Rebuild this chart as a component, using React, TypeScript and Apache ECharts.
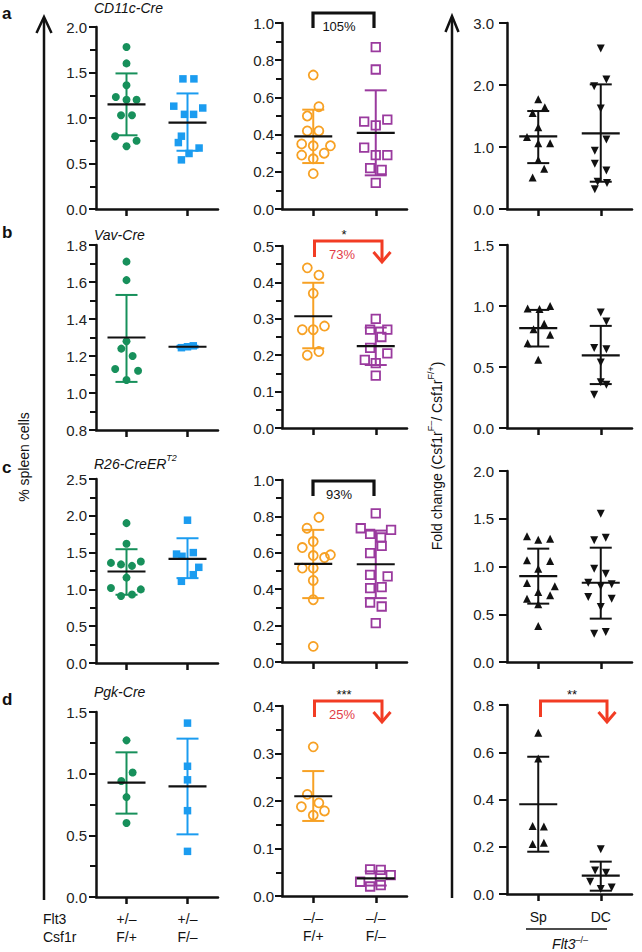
import React, { useEffect, useRef } from "react";
import * as echarts from "echarts";

// ---------------- text / categories ----------------
const panelLetters = ["a", "b", "c", "d"];
const creTitles = ["CD11c-Cre", "Vav-Cre", "R26-CreER", "Pgk-Cre"];
const creTitleSup = ["", "", "T2", ""];
const flt3Labels = ["+/–", "+/–", "–/–", "–/–"];
const csf1rLabels = ["F/+", "F/–", "F/+", "F/–"];
const foldLabels = ["Sp", "DC"];
const pctLabels = ["105%", "73%", "93%", "25%"];
const pctSig = ["", "*", "", "***"];
const pctDown = [false, true, false, true];
const foldSig = ["", "", "", "**"];

// ---------------- y axis ranges (rows a-d) ----------------
const col1YMin = [0, 0.8, 0, 0];
const col1YMax = [2.0, 1.8, 2.5, 1.5];
const col1YStep = [0.5, 0.2, 0.5, 0.5];
const col2YMax = [1.0, 0.5, 1.0, 0.4];
const col2YStep = [0.2, 0.1, 0.2, 0.1];
const col3YMax = [3.0, 1.5, 2.0, 0.8];
const col3YStep = [1.0, 0.5, 0.5, 0.2];

// ---------------- data: values, x-jitter, [mean, lower, upper] ----------------
// row a
const a1FP = [1.78, 1.6, 1.36, 1.23, 1.2, 1.2, 1.03, 1.03, 0.8, 0.75, 0.69];
const a1FPx = [0, 0, 0, -0.35, 0, 0.33, -0.18, 0.18, -0.37, 0.33, 0];
const a1FPs = [1.15, 0.81, 1.49];
const a1FM = [1.43, 1.43, 1.13, 1.11, 1.04, 1.04, 0.8, 0.73, 0.67, 0.61, 0.54];
const a1FMx = [-0.15, 0.21, -0.45, 0.5, -0.1, 0.2, -0.2, -0.3, 0.38, 0.05, -0.2];
const a1FMs = [0.95, 0.64, 1.27];
const a2FP = [0.72, 0.55, 0.5, 0.42, 0.42, 0.35, 0.34, 0.34, 0.3, 0.29, 0.27, 0.19];
const a2FPx = [0, 0.18, -0.19, -0.19, 0.18, -0.37, 0, 0.55, 0.35, -0.37, 0, 0];
const a2FPs = [0.39, 0.247, 0.534];
const a2FM = [0.87, 0.75, 0.47, 0.45, 0.48, 0.33, 0.29, 0.29, 0.22, 0.21, 0.14];
const a2FMx = [0, 0, -0.37, 0, 0.37, -0.37, 0, 0.37, -0.18, 0.19, 0];
const a2FMs = [0.409, 0.181, 0.638];
const a3Sp = [1.77, 1.64, 1.55, 1.32, 1.16, 1.06, 1.06, 0.79, 0.65, 0.51];
const a3SpX = [0, 0.21, -0.18, 0, -0.36, 0, 0.38, 0, 0.19, -0.18];
const a3SpS = [1.17, 0.74, 1.58];
const a3DC = [2.59, 2.09, 1.98, 1.62, 1.12, 0.94, 0.73, 0.62, 0.44, 0.42, 0.32];
const a3DCx = [0, 0.18, -0.21, 0, 0.18, -0.19, -0.19, 0.18, -0.1, 0.2, -0.19];
const a3DCs = [1.22, 0.44, 2.01];
// row b
const b1FP = [1.71, 1.61, 1.28, 1.24, 1.2, 1.13, 1.12, 1.07];
const b1FPx = [0, 0, 0, -0.17, 0.2, -0.37, 0.38, 0];
const b1FPs = [1.3, 1.06, 1.53];
const b1FM = [1.245, 1.255, 1.25];
const b1FMx = [-0.2, 0.19, 0];
const b1FMs = [1.25, 1.245, 1.255];
const b2FP = [0.44, 0.42, 0.37, 0.28, 0.27, 0.27, 0.2, 0.21];
const b2FPx = [-0.19, 0.18, 0, 0.36, -0.35, 0, -0.19, 0.18];
const b2FPs = [0.307, 0.219, 0.399];
const b2FM = [0.3, 0.27, 0.27, 0.25, 0.22, 0.205, 0.187, 0.178, 0.144];
const b2FMx = [0, -0.18, 0.37, 0.18, -0.18, 0.37, -0.35, 0, 0];
const b2FMs = [0.225, 0.173, 0.276];
const b3Sp = [1.0, 0.98, 0.975, 0.854, 0.81, 0.764, 0.695, 0.559];
const b3SpX = [0.38, -0.34, 0.04, 0.19, -0.15, 0.38, -0.34, 0];
const b3SpS = [0.818, 0.668, 0.968];
const b3DC = [0.946, 0.873, 0.655, 0.646, 0.537, 0.374, 0.355, 0.273];
const b3DCx = [0, 0.18, -0.21, 0.18, 0, 0, 0.18, -0.21];
const b3DCs = [0.595, 0.36, 0.837];
// row c
const c1FP = [1.9, 1.62, 1.38, 1.36, 1.34, 1.32, 1.16, 1.02, 1.0, 0.93, 0.91];
const c1FPx = [0, 0, 0.47, -0.51, -0.18, 0.18, 0, -0.51, 0.47, 0.18, -0.18];
const c1FPs = [1.243, 0.927, 1.546];
const c1FM = [1.94, 1.5, 1.48, 1.45, 1.3, 1.2, 1.11];
const c1FMx = [0, 0.19, -0.36, -0.18, 0.37, 0.19, -0.2];
const c1FMs = [1.415, 1.153, 1.695];
const c2FP = [0.795, 0.735, 0.662, 0.629, 0.589, 0.585, 0.574, 0.516, 0.516, 0.448, 0.342, 0.086];
const c2FPx = [0.18, -0.2, 0, -0.35, 0.55, 0, 0.36, -0.35, 0, 0, 0, 0];
const c2FPs = [0.539, 0.351, 0.726];
const c2FM = [0.817, 0.735, 0.726, 0.704, 0.684, 0.638, 0.598, 0.479, 0.47, 0.411, 0.406, 0.327, 0.305, 0.214];
const c2FMx = [0, -0.48, 0.49, -0.18, 0.17, 0.19, -0.18, -0.18, 0.38, 0.19, -0.18, -0.18, 0.19, 0];
const c2FMs = [0.537, 0.351, 0.722];
const c3Sp = [1.316, 1.29, 1.281, 1.065, 1.058, 0.977, 0.827, 0.792, 0.733, 0.698, 0.663, 0.604, 0.377];
const c3SpX = [-0.36, 0.38, 0, -0.36, 0.38, 0, -0.36, 0.53, 0, 0.38, -0.36, 0, 0];
const c3SpS = [0.9, 0.611, 1.187];
const c3DC = [1.553, 1.302, 1.274, 0.977, 0.925, 0.83, 0.813, 0.792, 0.68, 0.663, 0.576, 0.314, 0.297];
const c3DCx = [0, 0.16, -0.21, -0.21, 0.16, -0.4, 0.35, 0, -0.4, 0.35, 0, 0.16, -0.21];
const c3DCs = [0.83, 0.454, 1.197];
// row d
const d1FP = [1.27, 1.01, 0.94, 0.81, 0.6];
const d1FPx = [0, 0.2, -0.17, 0, 0];
const d1FPs = [0.927, 0.676, 1.173];
const d1FM = [1.41, 1.06, 0.95, 0.7, 0.37];
const d1FMx = [0, 0, 0, 0, 0];
const d1FMs = [0.897, 0.508, 1.284];
const d2FP = [0.314, 0.214, 0.196, 0.188, 0.179, 0.17];
const d2FPx = [0, -0.19, 0.18, -0.38, 0.36, 0];
const d2FPs = [0.21, 0.158, 0.263];
const d2FM = [0.056, 0.055, 0.044, 0.03, 0.023, 0.02];
const d2FMx = [-0.18, 0.16, 0.48, -0.5, 0.16, -0.18];
const d2FMs = [0.037, 0.022, 0.052];
const d3Sp = [0.683, 0.574, 0.288, 0.286, 0.217, 0.212];
const d3SpX = [0, 0, -0.18, 0.18, 0.18, -0.18];
const d3SpS = [0.38, 0.179, 0.581];
const d3DC = [0.189, 0.1, 0.09, 0.052, 0.027, 0.021];
const d3DCx = [0, -0.18, 0.17, -0.34, 0.35, 0];
const d3DCs = [0.078, 0.014, 0.137];

const panelData: number[][][][] = [
  [[a1FP, a1FPx, a1FPs], [a1FM, a1FMx, a1FMs]],
  [[a2FP, a2FPx, a2FPs], [a2FM, a2FMx, a2FMs]],
  [[a3Sp, a3SpX, a3SpS], [a3DC, a3DCx, a3DCs]],
  [[b1FP, b1FPx, b1FPs], [b1FM, b1FMx, b1FMs]],
  [[b2FP, b2FPx, b2FPs], [b2FM, b2FMx, b2FMs]],
  [[b3Sp, b3SpX, b3SpS], [b3DC, b3DCx, b3DCs]],
  [[c1FP, c1FPx, c1FPs], [c1FM, c1FMx, c1FMs]],
  [[c2FP, c2FPx, c2FPs], [c2FM, c2FMx, c2FMs]],
  [[c3Sp, c3SpX, c3SpS], [c3DC, c3DCx, c3DCs]],
  [[d1FP, d1FPx, d1FPs], [d1FM, d1FMx, d1FMs]],
  [[d2FP, d2FPx, d2FPs], [d2FM, d2FMx, d2FMs]],
  [[d3Sp, d3SpX, d3SpS], [d3DC, d3DCx, d3DCs]],
];
const catPos = [1, 3];

// ---------------- styling / layout ----------------
const FONT = "'Liberation Sans', Arial, Helvetica, sans-serif";
const INK = "#111111";
const LABEL = "#222222";
const GREEN = "#17905b";
const BLUE = "#1b9cf0";
const ORANGE = "#f7a124";
const PURPLE = "#9a3a9e";
const RED = "#f23c24";
const RED_TEXT = "#e23c48";

const colLeft = [96, 282, 507];
const colWidth = [122, 125, 125];
const gridTop = [
  [27, 23, 23],
  [245, 246, 245],
  [479, 480, 471],
  [712, 706, 705],
];
const gridBottom = [
  [209, 209, 209],
  [430, 428, 428],
  [663, 662, 662],
  [897, 896, 894],
];
const labelMargin = [9, 8, 13];
const tickLen = [7, 7, 8];

const groupColors = [
  [GREEN, BLUE],
  [ORANGE, PURPLE],
  [INK, INK],
];

function yRange(r: number, c: number) {
  if (c === 0) return { min: col1YMin[r], max: col1YMax[r], interval: col1YStep[r] };
  if (c === 1) return { min: 0, max: col2YMax[r], interval: col2YStep[r] };
  return { min: 0, max: col3YMax[r], interval: col3YStep[r] };
}

function xLabel(c: number, k: number) {
  if (c === 0) return `${flt3Labels[k]}\n${csf1rLabels[k]}`;
  if (c === 1) return `${flt3Labels[k + 2]}\n${csf1rLabels[k + 2]}`;
  return foldLabels[k];
}

function txt(x: number, y: number, text: string, extra: any = {}) {
  return {
    type: "text",
    x,
    y,
    silent: true,
    style: {
      text,
      fontFamily: FONT,
      fontSize: 14,
      fill: INK,
      align: "center",
      verticalAlign: "middle",
      ...extra,
    },
  };
}

function poly(points: number[][], color: string, width: number) {
  return {
    type: "polyline",
    silent: true,
    shape: { points },
    style: { stroke: color, lineWidth: width, fill: null, lineJoin: "miter", lineCap: "butt" },
  };
}

function buildOption() {
  const grid: any[] = [];
  const xAxis: any[] = [];
  const yAxis: any[] = [];
  const series: any[] = [];

  for (let r = 0; r < 4; r++) {
    for (let c = 0; c < 3; c++) {
      const idx = r * 3 + c;
      const top = gridTop[r][c];
      const bottom = gridBottom[r][c];
      grid.push({ left: colLeft[c], top, width: colWidth[c], height: bottom - top });
      const isBottom = r === 3;
      xAxis.push({
        type: "value",
        gridIndex: idx,
        min: 0,
        max: 4,
        axisLine: { show: true, onZero: false, lineStyle: { color: INK, width: 2.5 } },
        axisTick: { show: true, customValues: catPos, length: 7, lineStyle: { color: INK, width: 2.5 } },
        axisLabel: {
          show: isBottom,
          customValues: catPos,
          formatter: (v: number) => xLabel(c, catPos.indexOf(Math.round(v))),
          margin: c === 2 ? 14 : 13,
          fontSize: 14,
          lineHeight: 18,
          color: INK,
          fontFamily: FONT,
        },
        splitLine: { show: false },
      });
      const yr = yRange(r, c);
      yAxis.push({
        type: "value",
        gridIndex: idx,
        min: yr.min,
        max: yr.max,
        interval: yr.interval,
        axisLine: { show: true, lineStyle: { color: INK, width: 2.5 } },
        axisTick: { show: true, length: tickLen[c], lineStyle: { color: INK, width: 2 } },
        minorTick: { show: c < 2, splitNumber: 2, length: 6, lineStyle: { color: INK, width: 2 } },
        axisLabel: {
          formatter: (v: number) => v.toFixed(1),
          margin: labelMargin[c],
          fontSize: 15,
          color: LABEL,
          fontFamily: FONT,
        },
        splitLine: { show: false },
        minorSplitLine: { show: false },
      });

      const groups = panelData[idx];
      groups.forEach((g, k) => {
        const [vals, dx] = g;
        const color = groupColors[c][k];
        const base: any = {
          type: "scatter",
          xAxisIndex: idx,
          yAxisIndex: idx,
          silent: true,
          z: 2,
          data: vals.map((v, i) => [catPos[k] + dx[i], v]),
        };
        if (c === 0) {
          base.symbol = k === 0 ? "circle" : "rect";
          base.symbolSize = k === 0 ? 8 : 7.5;
          base.itemStyle = { color, opacity: 1 };
        } else if (c === 1) {
          base.symbol = k === 0 ? "circle" : "rect";
          base.symbolSize = k === 0 ? 9 : 8.5;
          base.itemStyle = { color: "rgba(255,255,255,0)", borderColor: color, borderWidth: 1.8, opacity: 1 };
        } else {
          base.symbol = "triangle";
          base.symbolSize = 8;
          base.symbolRotate = k === 0 ? 0 : 180;
          base.itemStyle = { color: INK, opacity: 1 };
        }
        series.push(base);
      });

      series.push({
        type: "custom",
        xAxisIndex: idx,
        yAxisIndex: idx,
        silent: true,
        z: 3,
        data: groups.map((g, k) => [catPos[k], g[2][0], g[2][1], g[2][2], k]),
        renderItem: (_p: any, api: any) => {
          const x = api.value(0);
          const k = api.value(4);
          const pm = api.coord([x, api.value(1)]);
          const pl = api.coord([x, api.value(2)]);
          const ph = api.coord([x, api.value(3)]);
          const color = groupColors[c][k];
          const cap = 11;
          const half = 19;
          const st = { stroke: color, lineWidth: 2 };
          return {
            type: "group",
            children: [
              { type: "line", shape: { x1: pl[0], y1: pl[1], x2: ph[0], y2: ph[1] }, style: st },
              { type: "line", shape: { x1: pl[0] - cap, y1: pl[1], x2: pl[0] + cap, y2: pl[1] }, style: st },
              { type: "line", shape: { x1: ph[0] - cap, y1: ph[1], x2: ph[0] + cap, y2: ph[1] }, style: st },
              {
                type: "line",
                shape: { x1: pm[0] - half, y1: pm[1], x2: pm[0] + half, y2: pm[1] },
                style: { stroke: INK, lineWidth: 2.2 },
              },
            ],
          };
        },
      });
    }
  }

  // ---------- graphic annotations ----------
  const graphic: any[] = [];
  const letterY = [13, 232, 467, 699];
  const titleY = [8, 235, 462, 692];
  for (let r = 0; r < 4; r++) {
    graphic.push(txt(2, letterY[r], panelLetters[r], { align: "left", fontWeight: "bold", fontSize: 17 }));
    if (creTitleSup[r]) {
      graphic.push(
        txt(94, titleY[r], `{t|${creTitles[r]}}{s|${creTitleSup[r]}}`, {
          align: "left",
          rich: {
            t: { fontFamily: FONT, fontSize: 14, fontStyle: "italic", fill: INK, lineHeight: 18, verticalAlign: "bottom" },
            s: { fontFamily: FONT, fontSize: 9, fontStyle: "italic", fill: INK, lineHeight: 10, verticalAlign: "top" },
          },
        })
      );
    } else {
      graphic.push(txt(94, titleY[r], creTitles[r], { align: "left", fontStyle: "italic" }));
    }
  }

  // big vertical arrows
  graphic.push(poly([[44, 900], [44, 19]], INK, 2.5));
  graphic.push(poly([[36.5, 33], [44, 17], [51.5, 33]], INK, 2.5));
  graphic.push(poly([[452, 898], [452, 18]], INK, 2.5));
  graphic.push(poly([[445.5, 32], [452, 16], [458.5, 32]], INK, 2.5));

  // axis titles
  graphic.push({ ...txt(24, 457, "% spleen cells"), rotation: Math.PI / 2 });
  graphic.push({
    ...txt(435, 456, "{t|Fold change (Csf1r}{s|F–}{t|/ Csf1r}{s|F/+}{t|)}", {
      rich: {
        t: { fontFamily: FONT, fontSize: 14, fill: INK, lineHeight: 18, verticalAlign: "bottom" },
        s: { fontFamily: FONT, fontSize: 9, fill: INK, lineHeight: 10, verticalAlign: "top" },
      },
    }),
    rotation: Math.PI / 2,
  });

  // genotype row labels
  graphic.push(txt(43, 919, "Flt3", { align: "left" }));
  graphic.push(txt(43, 937, "Csf1r", { align: "left" }));
  graphic.push(poly([[526, 929], [607, 929]], INK, 1.5));
  graphic.push(
    txt(570, 943, "{t|Flt3}{s|–/–}", {
      rich: {
        t: { fontFamily: FONT, fontSize: 14, fontStyle: "italic", fill: INK, lineHeight: 15, verticalAlign: "bottom" },
        s: { fontFamily: FONT, fontSize: 9, fill: INK, lineHeight: 9, verticalAlign: "top" },
      },
    })
  );

  // comparison brackets (column 2)
  const brTop = [13, 241, 481, 701];
  for (let r = 0; r < 4; r++) {
    const t = brTop[r];
    if (!pctDown[r]) {
      graphic.push(poly([[313, t + 15], [313, t], [374, t], [374, t + 15]], INK, 3.2));
      graphic.push(txt(339, t + 13, pctLabels[r], { fontSize: 13 }));
    } else {
      graphic.push(poly([[314.5, t + 16], [314.5, t], [382, t], [382, t + 20]], RED, 3));
      graphic.push(poly([[373.5, t + 11], [382, t + 21], [390.5, t + 11]], RED, 3));
      graphic.push(txt(342, t + 13, pctLabels[r], { fontSize: 13, fill: RED_TEXT }));
      graphic.push(txt(344, t - 7, pctSig[r], { fontSize: 13 }));
    }
  }
  // fold-change bracket (column 3, row d)
  for (let r = 0; r < 4; r++) {
    if (!foldSig[r]) continue;
    const t = brTop[r];
    graphic.push(poly([[540.5, t + 16], [540.5, t], [607, t], [607, t + 20]], RED, 3));
    graphic.push(poly([[598.5, t + 11], [607, t + 21], [615.5, t + 11]], RED, 3));
    graphic.push(txt(572, t - 7, foldSig[r], { fontSize: 13 }));
  }

  return {
    animation: false,
    backgroundColor: "#ffffff",
    textStyle: { fontFamily: FONT },
    grid,
    xAxis,
    yAxis,
    series,
    graphic,
  };
}

export default function App() {
  const ref = useRef<HTMLDivElement>(null);
  useEffect(() => {
    if (!ref.current) return;
    const chart = echarts.init(ref.current, null, { renderer: "svg" });
    chart.setOption(buildOption() as any);
    return () => chart.dispose();
  }, []);
  return (
    <div
      ref={ref}
      style={{ position: "fixed", left: 0, top: 0, width: 642, height: 952, background: "#fff" }}
    />
  );
}
